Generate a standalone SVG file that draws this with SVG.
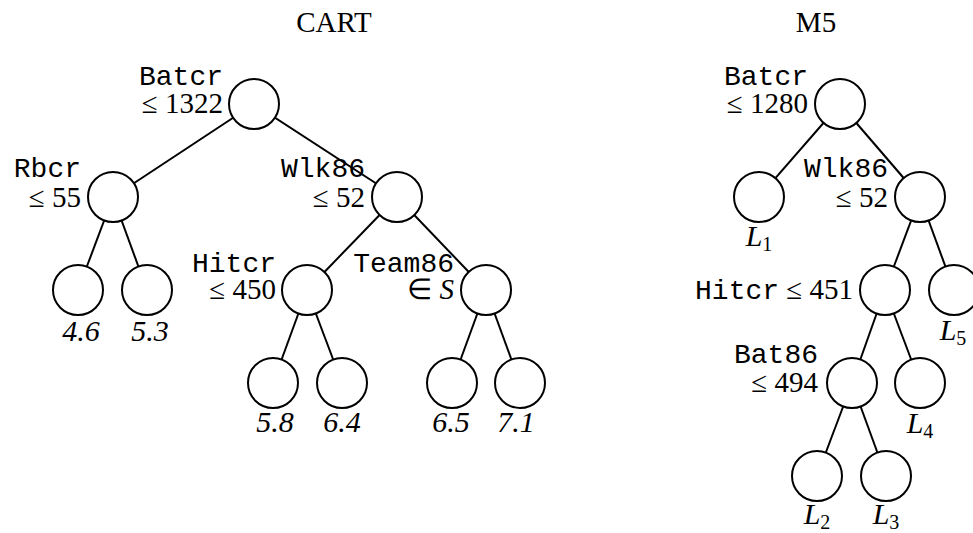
<svg xmlns="http://www.w3.org/2000/svg" width="973" height="533" viewBox="0 0 973 533">
<style>
.n{fill:#fff;stroke:#000;stroke-width:2}
.e line{stroke:#000;stroke-width:2}
text{fill:#000}
.s{font-family:"Liberation Serif","Times New Roman",serif;font-size:29px}
.m{font-family:"Liberation Mono","Courier New",monospace;font-size:28px}
.i{font-family:"Liberation Serif","Times New Roman",serif;font-size:30px;font-style:italic}
.sub{font-family:"Liberation Serif","Times New Roman",serif;font-size:20px;font-style:normal}
.r{text-anchor:end}
.c{text-anchor:middle}
</style>
<rect width="973" height="533" fill="#fff"/>
<text class="s c" x="334" y="32">CART</text>
<text class="s c" x="816" y="32">M5</text>
<g class="e" id="connectors">
<line x1="254" y1="104" x2="113" y2="197"/>
<line x1="254" y1="104" x2="397" y2="197"/>
<line x1="113" y1="197" x2="78" y2="290"/>
<line x1="113" y1="197" x2="147" y2="290"/>
<line x1="397" y1="197" x2="307" y2="290"/>
<line x1="397" y1="197" x2="486" y2="290"/>
<line x1="307" y1="290" x2="273" y2="383"/>
<line x1="307" y1="290" x2="342" y2="383"/>
<line x1="486" y1="290" x2="452" y2="383"/>
<line x1="486" y1="290" x2="520" y2="383"/>
<line x1="840" y1="104" x2="759" y2="197"/>
<line x1="840" y1="104" x2="920" y2="197"/>
<line x1="920" y1="197" x2="885" y2="290"/>
<line x1="920" y1="197" x2="954" y2="290"/>
<line x1="885" y1="290" x2="852" y2="383"/>
<line x1="885" y1="290" x2="920" y2="383"/>
<line x1="852" y1="383" x2="817" y2="476"/>
<line x1="852" y1="383" x2="886" y2="476"/>
</g>
<g id="cart-root"><circle class="n" cx="254" cy="104" r="25"/><text class="m r" x="223" y="85">Batcr</text><text class="s r" x="223" y="113">≤ 1322</text></g>
<g id="cart-rbcr"><circle class="n" cx="113" cy="197" r="25"/><text class="m r" x="81" y="177">Rbcr</text><text class="s r" x="81" y="207">≤ 55</text></g>
<g id="cart-wlk86"><circle class="n" cx="397" cy="197" r="25"/><text class="m r" x="365" y="177">Wlk86</text><text class="s r" x="365" y="207">≤ 52</text></g>
<g id="cart-leaf46"><circle class="n" cx="78" cy="290" r="25"/><text class="i c" x="81" y="341">4.6</text></g>
<g id="cart-leaf53"><circle class="n" cx="147" cy="290" r="25"/><text class="i c" x="150" y="341">5.3</text></g>
<g id="cart-hitcr"><circle class="n" cx="307" cy="290" r="25"/><text class="m r" x="276" y="272">Hitcr</text><text class="s r" x="276" y="299">≤ 450</text></g>
<g id="cart-team86"><circle class="n" cx="486" cy="290" r="25"/><text class="m r" x="454" y="272">Team86</text><text class="s r" x="454" y="299">∈ <tspan font-style="italic">S</tspan></text></g>
<g id="cart-leaf58"><circle class="n" cx="273" cy="383" r="25"/><text class="i c" x="275" y="432">5.8</text></g>
<g id="cart-leaf64"><circle class="n" cx="342" cy="383" r="25"/><text class="i c" x="342" y="432">6.4</text></g>
<g id="cart-leaf65"><circle class="n" cx="452" cy="383" r="25"/><text class="i c" x="451" y="432">6.5</text></g>
<g id="cart-leaf71"><circle class="n" cx="520" cy="383" r="25"/><text class="i c" x="516" y="432">7.1</text></g>
<g id="m5-root"><circle class="n" cx="840" cy="104" r="25"/><text class="m r" x="808" y="85">Batcr</text><text class="s r" x="808" y="113">≤ 1280</text></g>
<g id="m5-l1"><circle class="n" cx="759" cy="197" r="25"/><text class="i c" x="759" y="246">L<tspan class="sub" dy="5">1</tspan></text></g>
<g id="m5-wlk86"><circle class="n" cx="920" cy="197" r="25"/><text class="m r" x="888" y="177">Wlk86</text><text class="s r" x="888" y="207">≤ 52</text></g>
<g id="m5-hitcr"><circle class="n" cx="885" cy="290" r="25"/><text class="r" x="853" y="299"><tspan class="m">Hitcr</tspan><tspan class="s"> ≤ 451</tspan></text></g>
<g id="m5-l5"><circle class="n" cx="954" cy="290" r="25"/><text class="i c" x="953" y="340">L<tspan class="sub" dy="5">5</tspan></text></g>
<g id="m5-bat86"><circle class="n" cx="852" cy="383" r="25"/><text class="m r" x="818" y="363">Bat86</text><text class="s r" x="818" y="392">≤ 494</text></g>
<g id="m5-l4"><circle class="n" cx="920" cy="383" r="25"/><text class="i c" x="920" y="433">L<tspan class="sub" dy="5">4</tspan></text></g>
<g id="m5-l2"><circle class="n" cx="817" cy="476" r="25"/><text class="i c" x="817" y="524">L<tspan class="sub" dy="5">2</tspan></text></g>
<g id="m5-l3"><circle class="n" cx="886" cy="476" r="25"/><text class="i c" x="886" y="524">L<tspan class="sub" dy="5">3</tspan></text></g>
</svg>
